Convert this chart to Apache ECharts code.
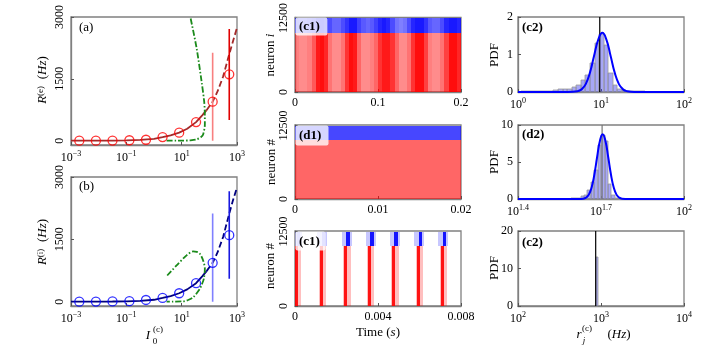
<!DOCTYPE html>
<html>
<head>
<meta charset="utf-8">
<title>Firing rates and raster plots</title>
<script src="https://cdn.jsdelivr.net/npm/echarts@6/dist/echarts.min.js"></script>
<style>
    html, body { margin: 0; padding: 0; background: #fff; }
    #main { width: 720px; height: 360px; }
</style>
</head>
<body>
<div id="main"></div>
<script type="text/javascript">
// ---- panels (a),(b): population rate vs drive (x stored as log10 I0) ----
var simLog = [-2.7, -2.1, -1.5, -0.89, -0.29, 0.31, 0.91, 1.52, 2.12, 2.72];
var simRateE = [0, 1, 3, 10, 22, 88, 195, 450, 945, 1610];
var simRateI = [0, 2, 5, 12, 40, 89, 202, 444, 935, 1600];

var errLog = [2.12, 2.72];
var errLoE = [0, 500];
var errHiE = [2130, 2710];
var errLoI = [0, 550];
var errHiI = [2120, 2660];

var theoryLog = [-3, -2.5, -2, -1.5, -1, -0.5, 0, 0.31, 0.6, 0.91, 1.2, 1.52, 1.75, 1.9, 2.12, 2.3, 2.5, 2.72, 2.85, 3];
var theoryE = [0, 0, 1, 3, 8, 18, 42, 85, 130, 195, 290, 450, 620, 740, 945, 1200, 1560, 2100, 2400, 2740];
var theoryI = [0, 0, 1, 3, 8, 20, 45, 89, 135, 202, 295, 444, 615, 735, 935, 1190, 1560, 2120, 2430, 2750];
var dashFrom = 1.9;

var meanFieldLogE = [0.455, 0.8, 1.054, 1.3, 1.538, 1.70, 1.776, 1.838, 1.835, 1.812, 1.718, 1.538, 1.321];
var meanFieldE = [0, 0, 2, 8, 31, 90, 152, 394, 700, 958, 1442, 2250, 2976];
var meanFieldLogI = [0.477, 0.816, 1.177, 1.415, 1.55, 1.657, 1.776, 1.838, 1.80, 1.72, 1.657, 1.415, 1.2, 1.054, 0.69, 0.455];
var meanFieldI = [629, 871, 1113, 1210, 1200, 1154, 992, 791, 549, 400, 307, 104, 30, 7, 0, 0];

// ---- raster (c1) top: spike density per 5 ms bin ----
var c1Edges = [0, 0.005, 0.01, 0.015, 0.02, 0.025, 0.03, 0.035, 0.04, 0.045, 0.05, 0.055, 0.06, 0.065, 0.07,
    0.075, 0.08, 0.085, 0.09, 0.095, 0.1, 0.105, 0.11, 0.115, 0.12, 0.125, 0.13, 0.135, 0.14, 0.145, 0.15,
    0.155, 0.16, 0.165, 0.17, 0.175, 0.18, 0.185, 0.19, 0.195, 0.2];
var c1DensE = [0.5, 0.45, 0.45, 0.5, 0.65, 0.9, 0.95, 0.85, 0.55, 0.45, 0.45, 0.55, 0.8, 0.95, 0.9, 0.6, 0.45, 0.45, 0.5, 0.6,
    0.8, 0.9, 0.9, 0.8, 0.6, 0.45, 0.45, 0.55, 0.8, 0.95, 0.95, 0.75, 0.5, 0.45, 0.45, 0.55, 0.75, 0.95, 0.95, 0.85];
var c1DensI = [0.7, 0.65, 0.65, 0.7, 0.75, 0.85, 0.9, 0.85, 0.7, 0.6, 0.6, 0.7, 0.8, 0.9, 0.9, 0.75, 0.65, 0.6, 0.65, 0.75,
    0.85, 0.9, 0.85, 0.7, 0.55, 0.5, 0.55, 0.7, 0.85, 0.9, 0.9, 0.8, 0.65, 0.6, 0.6, 0.7, 0.85, 0.9, 0.9, 0.85];

// ---- raster (d1): asynchronous state ----
var d1Edges = [0, 0.005, 0.01, 0.015, 0.02];
var d1DensE = [0.6, 0.6, 0.6, 0.6];
var d1DensI = [0.72, 0.72, 0.72, 0.72];

// ---- raster (c1) bottom: synchronous volleys ----
var volleyTimes = [0, 0.0012, 0.00238, 0.00353, 0.00469, 0.00586, 0.00702];
var volleyCoreE = [0.9, 0.9, 0.9, 0.9, 0.9, 0.9, 0.9];
var volleyCoreI = [0.3, 0.35, 0.9, 0.9, 0.9, 0.9, 0.9];

var nExc = 10000;
var nTot = 12500;

// ---- histograms (x stored as log10 rate) ----
var c2Edges = [0.042, 0.097, 0.152, 0.207, 0.262, 0.317, 0.372, 0.427, 0.482, 0.537, 0.592, 0.647, 0.702, 0.757,
    0.812, 0.867, 0.922, 0.977, 1.032, 1.087, 1.142, 1.197, 1.252, 1.307, 1.362, 1.417, 1.472, 1.527, 1.582];
var c2Pdf = [0.03, 0.03, 0.03, 0.03, 0.03, 0.04, 0.04, 0.06, 0.07, 0.08, 0.09, 0.13, 0.2, 0.33, 0.46, 0.78,
    1.30, 1.55, 1.25, 0.50, 0.20, 0.08, 0.05, 0.04, 0.03, 0.02, 0.02, 0.01];
var c2FitLog = [0, 0.6, 0.716, 0.766, 0.816, 0.866, 0.916, 0.966, 1.016, 1.066, 1.116, 1.166, 1.216, 1.266, 1.316, 1.4, 2];
var c2Fit = [0, 0, 0.02, 0.07, 0.21, 0.51, 0.96, 1.39, 1.58, 1.39, 0.96, 0.51, 0.21, 0.07, 0.02, 0, 0];
var c2Mean = 0.985;

var d2Edges = [1.553, 1.565, 1.578, 1.590, 1.602, 1.615, 1.627, 1.639, 1.651, 1.664, 1.676, 1.688, 1.700, 1.713,
    1.725, 1.737, 1.749, 1.762, 1.774, 1.786];
var d2Pdf = [0.03, 0.05, 0.06, 0.08, 0.12, 0.2, 0.35, 0.6, 1.2, 2.3, 3.9, 7.3, 8.6, 7.9, 2.0, 0.5, 0.15, 0.05, 0.02];
var d2FitLog = [1.4, 1.62, 1.636, 1.646, 1.656, 1.666, 1.676, 1.686, 1.696, 1.706, 1.716, 1.726, 1.736, 1.746, 1.756, 1.766, 1.776, 1.8, 2.0];
var d2Fit = [0, 0, 0.04, 0.18, 0.59, 1.55, 3.31, 5.68, 7.85, 8.75, 7.85, 5.68, 3.31, 1.55, 0.59, 0.18, 0.04, 0, 0];
var d2Mean = 1.704;

var c2bEdges = [2.936, 2.967];
var c2bPdf = [13];
var c2bMean = 2.936;

// ------------------------------------------------------------------
var SERIF = 'Liberation Serif';
var myChart = echarts.init(document.getElementById('main'));

function powLabel(v) {
    var e = Math.round(v * 10) / 10;
    return '{b|10}{s|' + (e < 0 ? '\u2212' : '') + Math.abs(e) + '}';
}
var powRich = {
    b: {fontFamily: SERIF, fontSize: 12, color: '#000', lineHeight: 15},
    s: {fontFamily: SERIF, fontSize: 8, color: '#000', verticalAlign: 'top'}
};
function plainLabel(v) { return String(+v.toFixed(4)); }

var grids = [
    {left: 71, top: 17, width: 166, height: 128},
    {left: 71, top: 177, width: 166, height: 129},
    {left: 295, top: 17, width: 166, height: 75},
    {left: 295, top: 125, width: 166, height: 74},
    {left: 295, top: 231, width: 166, height: 75},
    {left: 518, top: 17, width: 166, height: 75},
    {left: 518, top: 125, width: 166, height: 74},
    {left: 518, top: 231, width: 166, height: 75}
];
grids.forEach(function (g) {
    g.show = true; g.borderColor = '#808080'; g.borderWidth = 1.3; g.backgroundColor = 'transparent';
});

function axis(gi, min, max, extra) {
    var a = {
        gridIndex: gi, type: 'value', min: min, max: max,
        splitLine: {show: false},
        axisLine: {show: true, onZero: false, lineStyle: {color: '#808080', width: 1.3}},
        axisTick: {show: true, inside: true, length: 3, lineStyle: {color: '#555'}},
        axisLabel: {fontFamily: SERIF, fontSize: 12, color: '#000', margin: 5}
    };
    if (extra.interval) a.interval = extra.interval;
    if (extra.ticks) {
        a.axisLabel.customValues = extra.ticks;
        a.axisTick.customValues = extra.ticks;
    }
    if (extra.pow) { a.axisLabel.formatter = powLabel; a.axisLabel.rich = powRich; }
    else { a.axisLabel.formatter = plainLabel; }
    if (extra.rotate) a.axisLabel.rotate = 90;
    return a;
}

var xAxes = [
    axis(0, -3, 3, {ticks: [-3, -1, 1, 3], pow: true}),
    axis(1, -3, 3, {ticks: [-3, -1, 1, 3], pow: true}),
    axis(2, 0, 0.2, {interval: 0.1}),
    axis(3, 0, 0.02, {interval: 0.01}),
    axis(4, 0, 0.008, {interval: 0.004}),
    axis(5, 0, 2, {interval: 1, pow: true}),
    axis(6, 1.4, 2, {ticks: [1.4, 1.7, 2], pow: true}),
    axis(7, 2, 4, {interval: 1, pow: true})
];
var yAxes = [
    axis(0, -105, 3000, {ticks: [0, 1500, 3000], rotate: true}),
    axis(1, -105, 3000, {ticks: [0, 1500, 3000], rotate: true}),
    axis(2, 0, 12600, {ticks: [0, 12500], rotate: true}),
    axis(3, 0, 12600, {ticks: [0, 12500], rotate: true}),
    axis(4, 0, 12600, {ticks: [0, 12500], rotate: true}),
    axis(5, 0, 2, {interval: 1}),
    axis(6, 0, 10, {interval: 5}),
    axis(7, 0, 20, {interval: 10})
];

function pairs(xs, ys, keep) {
    var out = [];
    for (var i = 0; i < xs.length; i++) {
        if (!keep || keep(xs[i])) out.push([xs[i], ys[i]]);
    }
    return out;
}

function lineSeries(idx, data, color, width, type, smooth, z) {
    return {
        type: 'line', xAxisIndex: idx, yAxisIndex: idx, data: data, symbol: 'none',
        smooth: smooth || false, z: z || 2, animation: false, clip: true,
        lineStyle: {color: color, width: width, type: type || 'solid'}
    };
}

// rect renderer: item = [x0, x1, y0, y1, opacity]; edges snapped to whole pixels so bins join cleanly
function rectRender(fill, stroke) {
    return function (params, api) {
        var p0 = api.coord([api.value(0), api.value(3)]);
        var p1 = api.coord([api.value(1), api.value(2)]);
        var x0 = Math.round(p0[0]), x1 = Math.round(p1[0]);
        var y0 = Math.round(p0[1]), y1 = Math.round(p1[1]);
        if (x1 - x0 < 1) x1 = x0 + 1;
        var cs = params.coordSys;
        var shape = echarts.graphic.clipRectByRect(
            {x: x0, y: y0, width: x1 - x0, height: y1 - y0},
            {x: cs.x, y: cs.y, width: cs.width, height: cs.height});
        if (!shape) return;
        return {
            type: 'rect', shape: shape,
            style: {fill: fill, opacity: api.value(4), stroke: stroke || null, lineWidth: stroke ? 0.8 : 0}
        };
    };
}
function rectSeries(idx, data, fill, stroke, z) {
    return {
        type: 'custom', xAxisIndex: idx, yAxisIndex: idx, data: data, z: z || 1, animation: false,
        renderItem: rectRender(fill, stroke), encode: {x: [0, 1], y: [2, 3]}
    };
}

function binRects(edges, dens, y0, y1) {
    var out = [];
    for (var i = 0; i < dens.length; i++) out.push([edges[i], edges[i + 1], y0, y1, dens[i]]);
    return out;
}
function histRects(edges, pdf) {
    var out = [];
    for (var i = 0; i < pdf.length; i++) out.push([edges[i], edges[i + 1], 0, pdf[i], 1]);
    return out;
}

// volley shapes (width of halo/core in seconds)
var volleyE = [], volleyI = [];
volleyTimes.forEach(function (t, i) {
    volleyE.push([t - 0.00005, t + 0.0003, 0, nExc, 0.25]);
    volleyE.push([t, t + 0.00014, 0, nExc, volleyCoreE[i]]);
    volleyI.push([t - 0.00012, t + 0.00035, nExc, nTot, 0.22]);
    volleyI.push([t + 0.0001, t + 0.00026, nExc, nTot, volleyCoreI[i]]);
});

function errorSeries(idx, x, lo, hi, color) {
    return lineSeries(idx, [[x, lo], [x, hi]], color, 1.6, 'solid', false, 3);
}

function circles(idx, data, color) {
    return {
        type: 'scatter', xAxisIndex: idx, yAxisIndex: idx, data: data, symbol: 'circle', symbolSize: 9,
        z: 5, animation: false,
        itemStyle: {color: 'rgba(0,0,0,0)', borderColor: color, borderWidth: 1.3}
    };
}

var dashDot = [6, 2, 1.5, 2];
var barFill = 'rgba(60,60,235,0.45)';

var series = [
    // (a)
    lineSeries(0, pairs(theoryLog, theoryE, function (x) { return x <= dashFrom; }), '#a52a2a', 1.8),
    lineSeries(0, pairs(theoryLog, theoryE, function (x) { return x >= dashFrom; }), '#a52a2a', 1.8, [6, 3]),
    lineSeries(0, pairs(meanFieldLogE, meanFieldE), '#1a8a1a', 1.8, dashDot, 0.3),
    errorSeries(0, errLog[0], errLoE[0], errHiE[0], '#f88080'),
    errorSeries(0, errLog[1], errLoE[1], errHiE[1], '#e00000'),
    circles(0, pairs(simLog, simRateE), '#ff0000'),
    // (b)
    lineSeries(1, pairs(theoryLog, theoryI, function (x) { return x <= dashFrom; }), '#000080', 1.8),
    lineSeries(1, pairs(theoryLog, theoryI, function (x) { return x >= dashFrom; }), '#000080', 1.8, [6, 3]),
    lineSeries(1, pairs(meanFieldLogI, meanFieldI), '#1a8a1a', 1.8, dashDot, 0.3),
    errorSeries(1, errLog[0], errLoI[0], errHiI[0], '#8080ff'),
    errorSeries(1, errLog[1], errLoI[1], errHiI[1], '#1818e0'),
    circles(1, pairs(simLog, simRateI), '#0000ff'),
    // rasters
    rectSeries(2, binRects(c1Edges, c1DensE, 0, nExc), '#ff0000'),
    rectSeries(2, binRects(c1Edges, c1DensI, nExc, nTot), '#0000ff'),
    rectSeries(3, binRects(d1Edges, d1DensE, 0, nExc), '#ff0000'),
    rectSeries(3, binRects(d1Edges, d1DensI, nExc, nTot), '#0000ff'),
    rectSeries(4, volleyE, '#ff0000'),
    rectSeries(4, volleyI, '#0000ff'),
    // histograms
    rectSeries(5, histRects(c2Edges, c2Pdf), barFill, '#9a9a9a'),
    lineSeries(5, [[c2Mean, 0], [c2Mean, 2]], '#000', 1.2, 'solid', false, 3),
    lineSeries(5, pairs(c2FitLog, c2Fit), '#0000ff', 2, 'solid', true, 4),
    rectSeries(6, histRects(d2Edges, d2Pdf), barFill, '#9a9a9a'),
    lineSeries(6, [[d2Mean, 0], [d2Mean, 10]], '#777', 1.2, 'solid', false, 3),
    lineSeries(6, pairs(d2FitLog, d2Fit), '#0000ff', 2, 'solid', true, 4),
    rectSeries(7, histRects(c2bEdges, c2bPdf), barFill, '#9a9a9a'),
    lineSeries(7, [[c2bMean, 0], [c2bMean, 20]], '#000', 1.2, 'solid', false, 3)
];

// ---- texts ----
var txtRich = {
    n: {fontFamily: SERIF, fontSize: 13, color: '#000'},
    i: {fontFamily: SERIF, fontSize: 13, fontStyle: 'italic', color: '#000'},
    s: {fontFamily: SERIF, fontSize: 9, color: '#000', verticalAlign: 'top'}
};
function rtext(x, y, text, rot, extra) {
    var el = {
        type: 'text', x: x, y: y, rotation: rot ? Math.PI / 2 : 0, z: 100,
        style: {text: text, rich: txtRich, align: 'center', verticalAlign: 'middle'}
    };
    if (extra) for (var k in extra) el.style[k] = extra[k];
    return el;
}
function panelTag(x, y, text, bold) {
    return {
        type: 'text', x: x, y: y, z: 100,
        style: {text: text, fontFamily: SERIF, fontSize: 13, fontWeight: bold ? 'bold' : 'normal',
            fill: '#000', align: 'left', verticalAlign: 'middle'}
    };
}
function tagBox(x, y, w, h) {
    return {type: 'rect', z: 99, shape: {x: x, y: y, width: w, height: h, r: 2},
        style: {fill: 'rgba(255,255,255,0.78)'}};
}

var graphics = [
    rtext(43, 80, '{i|R}{s|(e)}  {n|(}{i|Hz}{n|)}', true),
    rtext(43, 242, '{i|R}{s|(i)}  {n|(}{i|Hz}{n|)}', true),
    rtext(148, 336, '{i|I}', false),
    rtext(158, 330, '(c)', false, {fontFamily: SERIF, fontSize: 9, fill: '#000'}),
    rtext(155, 342, '0', false, {fontFamily: SERIF, fontSize: 9, fill: '#000'}),
    rtext(271, 55, '{n|neuron }{i|i}', true),
    rtext(272, 162, '{n|neuron #}', true),
    rtext(271, 266, '{n|neuron #}', true),
    rtext(378, 333, '{n|Time (}{i|s}{n|)}', false),
    rtext(495, 55, '{n|PDF}', true),
    rtext(495, 162, '{n|PDF}', true),
    rtext(495, 268, '{n|PDF}', true),
    rtext(579, 335, '{i|r}', false),
    rtext(587, 329, '(c)', false, {fontFamily: SERIF, fontSize: 9, fill: '#000'}),
    rtext(584, 341, 'j', false, {fontFamily: SERIF, fontSize: 9, fontStyle: 'italic', fill: '#000'}),
    rtext(619, 335, '{n|(}{i|Hz}{n|)}', false),
    panelTag(79, 28, '(a)'),
    panelTag(79, 187, '(b)'),
    tagBox(295.5, 17.5, 32, 18),
    panelTag(299, 27, '(c1)', true),
    tagBox(295.5, 125.5, 33, 20),
    panelTag(299, 136, '(d1)', true),
    tagBox(295.5, 231.5, 30, 19),
    panelTag(299, 242, '(c1)', true),
    panelTag(522, 28, '(c2)', true),
    panelTag(522, 135, '(d2)', true),
    panelTag(522, 243, '(c2)', true)
];

var option = {
    backgroundColor: '#fff',
    animation: false,
    grid: grids,
    xAxis: xAxes,
    yAxis: yAxes,
    series: series,
    graphic: graphics
};
myChart.setOption(option);
</script>
</body>
</html>
